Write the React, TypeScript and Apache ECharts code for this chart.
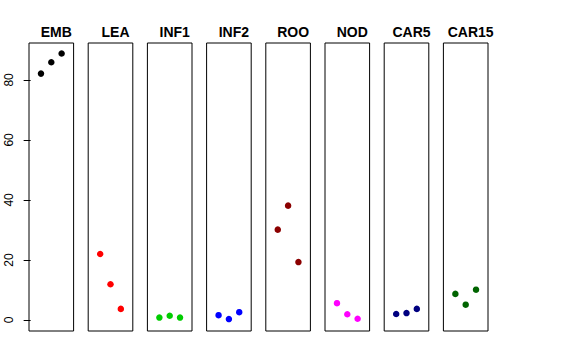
import React, { useEffect, useRef } from "react";
import * as echarts from "echarts";

const panels = ["EMB", "LEA", "INF1", "INF2", "ROO", "NOD", "CAR5", "CAR15"];
const colors = ["#000000", "#FF0000", "#00CD00", "#0000FF", "#8B0000", "#FF00FF", "#000080", "#006400"];
const xPositions = [1, 2, 3];
const values = [
  [82.1, 85.9, 88.8],
  [22.0, 11.9, 3.7],
  [0.8, 1.4, 0.8],
  [1.6, 0.3, 2.6],
  [30.1, 38.1, 19.3],
  [5.6, 1.9, 0.4],
  [2.0, 2.3, 3.7],
  [8.7, 5.1, 10.1],
];
const yTicks = [0, 20, 40, 60, 80];

export default function App() {
  const ref = useRef<HTMLDivElement>(null);
  useEffect(() => {
    if (!ref.current) return;
    const chart = echarts.init(ref.current, undefined, { renderer: "svg" });
    const font = "Liberation Sans, Arial, Helvetica, sans-serif";
    const left0 = 29;
    const pitch = 59.2;
    const w = 44.6;
    const top = 43;
    const h = 288;
    const grids = panels.map((_, i) => ({
      left: left0 + i * pitch,
      top,
      width: w,
      height: h,
      show: true,
      borderColor: "#000",
      borderWidth: 1,
      backgroundColor: "transparent",
      containLabel: false,
    }));
    const xAxes = panels.map((_, i) => ({
      type: "value",
      gridIndex: i,
      min: -0.16,
      max: 4.16,
      show: false,
    }));
    const yAxes = panels.map((_, i) => ({
      type: "value",
      gridIndex: i,
      min: -3.67,
      max: 92.3,
      show: i === 0,
      splitLine: { show: false },
      axisLine: { show: false },
      axisTick: {
        show: i === 0,
        length: 7,
        inside: false,
        customValues: yTicks,
        lineStyle: { color: "#000" },
      },
      axisLabel: {
        show: i === 0,
        rotate: 90,
        margin: 14,
        customValues: yTicks,
        color: "#000",
        fontSize: 12,
        fontFamily: font,
      },
    }));
    const series = panels.map((name, i) => ({
      type: "scatter",
      name,
      xAxisIndex: i,
      yAxisIndex: i,
      symbol: "circle",
      symbolSize: 6.5,
      itemStyle: { color: colors[i], opacity: 1 },
      data: xPositions.map((x, j) => [x, values[i][j]]),
    }));
    const titles = panels.map((name, i) => ({
      text: name,
      left: left0 + i * pitch + w / 2,
      top: 20,
      textAlign: "center",
      textStyle: { fontSize: 14, fontWeight: "bold", color: "#000", fontFamily: font },
    }));
    chart.setOption({
      animation: false,
      backgroundColor: "#fff",
      title: titles,
      grid: grids,
      xAxis: xAxes,
      yAxis: yAxes,
      series,
    });
    return () => chart.dispose();
  }, []);
  return (
    <div
      ref={ref}
      style={{ position: "fixed", left: 0, top: 0, width: 576, height: 360 }}
    />
  );
}
